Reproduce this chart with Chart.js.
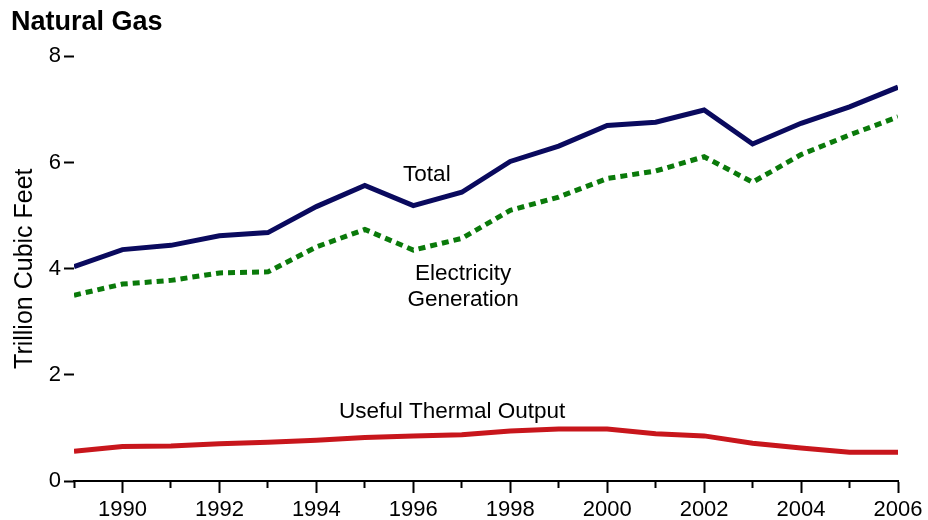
<!DOCTYPE html>
<html>
<head>
<meta charset="utf-8">
<script src="https://cdn.jsdelivr.net/npm/chart.js@4/dist/chart.umd.min.js"></script>
<style>
  html, body { margin: 0; padding: 0; background: #fff; }
  #wrap { width: 928px; height: 520px; }
</style>
</head>
<body>
<div id="wrap"><canvas id="c" width="928" height="520"></canvas></div>
<script>
const years = [1989,1990,1991,1992,1993,1994,1995,1996,1997,1998,1999,2000,2001,2002,2003,2004,2005,2006];
const total = [4.04,4.36,4.44,4.62,4.68,5.17,5.57,5.19,5.44,6.02,6.31,6.70,6.76,6.99,6.35,6.74,7.05,7.42];
const electricity = [3.50,3.71,3.78,3.92,3.94,4.41,4.74,4.35,4.57,5.10,5.35,5.70,5.84,6.11,5.63,6.15,6.52,6.86];
const thermal = [0.56,0.65,0.66,0.70,0.73,0.77,0.82,0.85,0.87,0.94,0.98,0.98,0.89,0.85,0.71,0.62,0.54,0.54];
const yTicks = [0,2,4,6,8];
const seriesLabels = [
  { text: 'Total', x: 1996.28, y: 5.76 },
  { text: 'Electricity', x: 1997.03, y: 3.91 },
  { text: 'Generation', x: 1997.03, y: 3.41 },
  { text: 'Useful Thermal Output', x: 1996.8, y: 1.30 }
];

const FONT = '"Liberation Sans", Arial, Helvetica, sans-serif';
const toPts = arr => years.map((yr, i) => ({ x: yr, y: arr[i] }));

const labelPlugin = {
  id: 'seriesLabels',
  afterDatasetsDraw(chart) {
    const { ctx, scales } = chart;
    ctx.save();
    ctx.font = '22.5px ' + FONT;
    ctx.fillStyle = '#000';
    ctx.textAlign = 'center';
    ctx.textBaseline = 'middle';
    seriesLabels.forEach(l => {
      ctx.fillText(l.text, scales.x.getPixelForValue(l.x), scales.y.getPixelForValue(l.y));
    });
    ctx.restore();
  }
};

new Chart(document.getElementById('c'), {
  type: 'line',
  data: {
    datasets: [
      { label: 'Useful Thermal Output', data: toPts(thermal), borderColor: '#c8161c', borderWidth: 5, pointRadius: 0, tension: 0 },
      { label: 'Electricity Generation', data: toPts(electricity), borderColor: '#0a7a0a', borderWidth: 5, borderDash: [7, 5], pointRadius: 0, tension: 0 },
      { label: 'Total', data: toPts(total), borderColor: '#0a0a5e', borderWidth: 5, pointRadius: 0, tension: 0 }
    ]
  },
  options: {
    responsive: false,
    animation: false,
    layout: { padding: { left: 11, right: 30, top: 0, bottom: 0 } },
    plugins: {
      legend: { display: false },
      tooltip: { enabled: false },
      title: {
        display: true,
        text: 'Natural Gas',
        align: 'start',
        color: '#000',
        font: { family: FONT, size: 27, weight: 'bold' },
        padding: { top: 6, bottom: 18 }
      }
    },
    scales: {
      x: {
        type: 'linear',
        min: 1989,
        max: 2006,
        afterFit: s => { s.height = 39; },
        border: { display: true, color: '#000', width: 2 },
        grid: {
          drawOnChartArea: false,
          drawTicks: true,
          tickLength: 12,
          tickWidth: 2,
          tickColor: '#000',
          tickBorderDash: ctx => (ctx.tick && ctx.tick.value % 2 !== 0) ? [6, 40] : []
        },
        ticks: {
          stepSize: 1,
          autoSkip: false,
          maxRotation: 0,
          padding: 4,
          color: '#000',
          font: { family: FONT, size: 22 },
          callback: v => (v % 2 === 0 ? String(v) : '')
        }
      },
      y: {
        min: 0,
        max: 8,
        afterFit: s => { s.width = 63; },
        afterBuildTicks: s => { s.ticks = yTicks.map(v => ({ value: v })); },
        border: { display: false },
        grid: {
          drawOnChartArea: false,
          drawTicks: true,
          tickLength: 10,
          tickWidth: 2,
          tickColor: '#000'
        },
        ticks: {
          padding: 3,
          color: '#000',
          font: { family: FONT, size: 22 }
        },
        title: {
          display: true,
          text: 'Trillion Cubic Feet',
          color: '#000',
          font: { family: FONT, size: 25 },
          padding: { top: -1, bottom: 0 }
        }
      }
    }
  },
  plugins: [labelPlugin]
});
</script>
</body>
</html>
